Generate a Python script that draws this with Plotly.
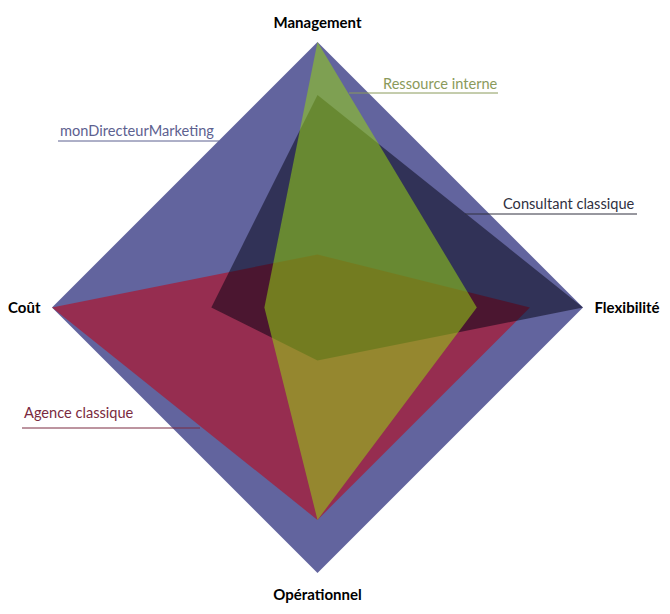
import plotly.graph_objects as go

W, H = 670, 614
OFF = 8  # page body margin of the rendered html

categories = ["Management", "Flexibilité", "Opérationnel", "Coût"]
series_names = ["monDirecteurMarketing", "Agence classique", "Consultant classique", "Ressource interne"]
mon_directeur = [5, 5, 5, 5]
agence = [1, 4, 4, 5]
consultant = [4, 5, 1, 2]
ressource = [5, 3, 4, 1]

fills = ["rgb(98,100,158)", "rgba(178,15,38,0.65)", "rgba(0,0,15,0.5)", "rgba(150,210,20,0.55)"]
label_colors = ["#5d6190", "#7a2a40", "#30303f", "#8a9a5b"]

fig = go.Figure()
for name, vals, fc in zip(series_names, [mon_directeur, agence, consultant, ressource], fills):
    fig.add_trace(go.Scatterpolar(
        r=vals + vals[:1], theta=categories + categories[:1], name=name,
        mode="lines", fill="toself", fillcolor=fc, line=dict(width=0, color=fc),
        hoverinfo="name+r+theta"))

def px(x):
    return (x - OFF) / W

def py(y):
    return 1 - (y - OFF) / H

# label positions (reference pixels) and leader underline extents
labels = [
    ("monDirecteurMarketing", 60, 131, 58, 219, 141, label_colors[0]),
    ("Agence classique", 24, 412, 22, 200, 428, label_colors[1]),
    ("Consultant classique", 503, 204, 465, 637, 214, label_colors[2]),
    ("Ressource interne", 383, 83, 349, 498, 93, label_colors[3]),
]
annotations = []
shapes = []
for text, tx, ty, x0, x1, ly, col in labels:
    annotations.append(dict(x=px(tx - 2), y=py(ty), xref="paper", yref="paper", text=text,
                            showarrow=False, xanchor="left", yanchor="middle",
                            font=dict(family="Lato", size=14.6, color=col)))
    shapes.append(dict(type="line", xref="paper", yref="paper", x0=px(x0), x1=px(x1),
                       y0=py(ly), y1=py(ly), line=dict(color=col, width=1), layer="above"))

fig.update_layout(
    width=W, height=H, margin=dict(l=0, r=0, t=0, b=0),
    paper_bgcolor="white", showlegend=False,
    polar=dict(
        domain=dict(x=[px(52), px(583)], y=[py(573), py(42)]),
        bgcolor="rgba(0,0,0,0)",
        radialaxis=dict(range=[0, 5], visible=False),
        angularaxis=dict(rotation=90, direction="clockwise", showgrid=False, showline=False,
                         ticks="outside", ticklen=8, tickcolor="rgba(0,0,0,0)",
                         tickfont=dict(family="Lato", size=15, color="black", weight="bold")),
    ),
    annotations=annotations, shapes=shapes,
)
fig.write_html("out.html")
